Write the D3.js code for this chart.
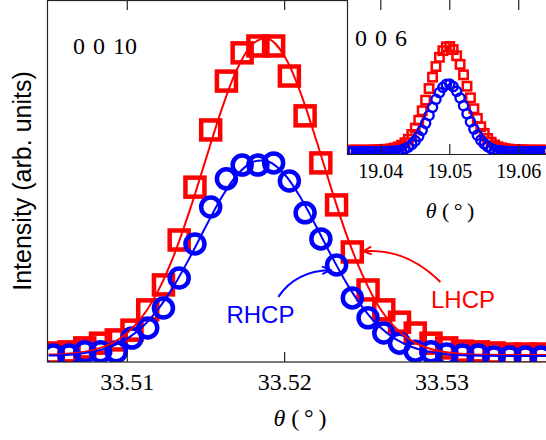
<!DOCTYPE html>
<html>
<head>
<meta charset="utf-8">
<script src="https://cdn.jsdelivr.net/npm/d3@7"></script>
<style>
  body { margin: 0; background: #fff; }
  svg { display: block; }
</style>
</head>
<body>
<script>
const width = 546;
const height = 440;
const red = "#ff0000";
const blue = "#0000ff";
const frameColor = "#222";

// ---- main panel (0 0 10) ----
const theta10 = [33.5053, 33.5063, 33.5073, 33.5083, 33.5093, 33.5103, 33.5113, 33.5123,
  33.5133, 33.5143, 33.5153, 33.5163, 33.5173, 33.5183, 33.5193, 33.5203, 33.5213, 33.5223,
  33.5233, 33.5243, 33.5253, 33.5263, 33.5273, 33.5283, 33.5293, 33.5303, 33.5313, 33.5323,
  33.5333, 33.5343, 33.5353, 33.5363];
const lhcp10 = [2.5, 2.8, 3.9, 5.2, 6.1, 8.8, 14.4, 21.3, 33.7, 48.3, 64.1, 77.6, 85.4, 87.3,
  87.3, 79.0, 68.0, 55.0, 43.4, 30.4, 19.9, 14.4, 11.0, 8.0, 5.2, 3.9, 3.0, 2.8, 2.5, 2.2, 2.2, 2.2];
const rhcp10 = [1.9, 1.9, 2.8, 2.8, 2.8, 6.6, 9.4, 14.9, 23.2, 32.6, 42.8, 50.6, 54.4, 54.4,
  55.0, 50.0, 41.2, 34.0, 26.8, 17.7, 12.2, 8.0, 5.2, 3.0, 2.8, 2.2, 1.9, 1.9, 1.4, 1.4, 1.4, 1.4];

const fitTheta10 = [33.505, 33.506, 33.507, 33.508, 33.509, 33.510, 33.511, 33.512, 33.513,
  33.514, 33.515, 33.516, 33.517, 33.518, 33.519, 33.520, 33.521, 33.522, 33.523, 33.524,
  33.525, 33.526, 33.527, 33.528, 33.529, 33.530, 33.531, 33.532, 33.533, 33.534, 33.535,
  33.536, 33.537];
const lhcpFit10 = [2.05, 2.23, 2.64, 3.49, 5.13, 8.04, 12.8, 20.0, 29.9, 42.3, 56.1, 69.8,
  81.1, 88.0, 89.2, 84.4, 74.5, 61.4, 47.4, 34.3, 23.5, 15.2, 9.6, 6.05, 4.0, 2.89, 2.35,
  2.1, 1.99, 1.95, 1.94, 1.93, 1.93];
const rhcpFit10 = [1.78, 1.95, 2.3, 3.0, 4.28, 6.45, 9.85, 14.8, 21.3, 29.1, 37.5, 45.5,
  51.8, 55.3, 55.3, 51.8, 45.5, 37.5, 29.1, 21.3, 14.8, 9.85, 6.45, 4.28, 3.0, 2.3, 1.95,
  1.78, 1.7, 1.68, 1.67, 1.66, 1.66];

const ticks10 = [33.51, 33.52, 33.53];

// ---- inset (0 0 6) ----
const theta6 = [19.0355, 19.0360, 19.0365, 19.0370, 19.0375, 19.0380, 19.0385, 19.0390,
  19.0395, 19.0400, 19.0405, 19.0410, 19.0415, 19.0420, 19.0425, 19.0430, 19.0435, 19.0440,
  19.0445, 19.0450, 19.0455, 19.0460, 19.0465, 19.0470, 19.0475, 19.0480, 19.0485, 19.0490,
  19.0495, 19.0500, 19.0505, 19.0510, 19.0515, 19.0520, 19.0525, 19.0530, 19.0535, 19.0540,
  19.0545, 19.0550, 19.0555, 19.0560, 19.0565, 19.0570, 19.0575, 19.0580, 19.0585, 19.0590,
  19.0595, 19.0600, 19.0605, 19.0610, 19.0615, 19.0620, 19.0625, 19.0630, 19.0635, 19.0640];
const lhcp6 = [0.025, 0.025, 0.025, 0.025, 0.025, 0.025, 0.025, 0.026, 0.027, 0.029, 0.030,
  0.031, 0.034, 0.039, 0.046, 0.057, 0.073, 0.096, 0.127, 0.168, 0.219, 0.281, 0.350, 0.425,
  0.499, 0.568, 0.628, 0.671, 0.696, 0.698, 0.678, 0.638, 0.582, 0.514, 0.440, 0.365, 0.294,
  0.231, 0.177, 0.134, 0.101, 0.077, 0.059, 0.047, 0.040, 0.035, 0.032, 0.030, 0.029, 0.028,
  0.027, 0.026, 0.025, 0.025, 0.025, 0.025, 0.025, 0.025];
const rhcp6 = [0.015, 0.015, 0.015, 0.015, 0.015, 0.015, 0.015, 0.015, 0.015, 0.015, 0.015,
  0.016, 0.017, 0.018, 0.021, 0.026, 0.033, 0.045, 0.062, 0.085, 0.115, 0.154, 0.199, 0.250,
  0.303, 0.355, 0.399, 0.433, 0.452, 0.454, 0.438, 0.407, 0.364, 0.314, 0.261, 0.209, 0.162,
  0.122, 0.090, 0.066, 0.048, 0.035, 0.027, 0.022, 0.019, 0.017, 0.016, 0.015, 0.015, 0.015,
  0.015, 0.015, 0.015, 0.015, 0.015, 0.015, 0.015, 0.015];

const ticks6 = [19.04, 19.05, 19.06];

const svg = d3.select("body")
    .append("svg")
    .attr("width", width)
    .attr("height", height);

// main axes
const mLeft = 47, mRight = 547, mTop = 0, mBottom = 362;

const x = d3.scaleLinear()
    .domain([33.5049, 33.53667])
    .range([mLeft, mRight]);

const y = d3.scaleLinear()
    .domain([0, 100])
    .range([mBottom, mTop]);

const defs = svg.append("defs");
defs.append("clipPath").attr("id", "clipMain")
    .append("rect")
    .attr("x", mLeft).attr("y", mTop)
    .attr("width", mRight - mLeft).attr("height", mBottom - mTop);

const main = svg.append("g").attr("clip-path", "url(#clipMain)");

const lineMain = d3.line()
    .x(d => x(d[0]))
    .y(d => y(d[1]))
    .curve(d3.curveCatmullRom);

main.selectAll("rect.lhcp")
    .data(d3.zip(theta10, lhcp10))
    .enter()
    .append("rect")
    .attr("class", "lhcp")
    .attr("x", d => x(d[0]) - 9.5)
    .attr("y", d => y(d[1]) - 9.5)
    .attr("width", 19)
    .attr("height", 19)
    .attr("fill", "none")
    .attr("stroke", red)
    .attr("stroke-width", 4.5);

main.selectAll("circle.rhcp")
    .data(d3.zip(theta10, rhcp10))
    .enter()
    .append("circle")
    .attr("class", "rhcp")
    .attr("cx", d => x(d[0]))
    .attr("cy", d => y(d[1]))
    .attr("r", 9.5)
    .attr("fill", "none")
    .attr("stroke", blue)
    .attr("stroke-width", 4.5);

main.append("path")
    .attr("d", lineMain(d3.zip(fitTheta10, lhcpFit10)))
    .attr("fill", "none")
    .attr("stroke", red)
    .attr("stroke-width", 2);

main.append("path")
    .attr("d", lineMain(d3.zip(fitTheta10, rhcpFit10)))
    .attr("fill", "none")
    .attr("stroke", blue)
    .attr("stroke-width", 2);

// annotations (data coordinates, like an annotate call)
function arrow(g, from, ctrl, to, color) {
    const p0 = [x(from[0]), y(from[1])];
    const c = [x(ctrl[0]), y(ctrl[1])];
    const p2 = [x(to[0]), y(to[1])];
    const path = d3.path();
    path.moveTo(p0[0], p0[1]);
    path.quadraticCurveTo(c[0], c[1], p2[0], p2[1]);
    g.append("path")
        .attr("d", path.toString())
        .attr("fill", "none")
        .attr("stroke", color)
        .attr("stroke-width", 2);
    const ang = Math.atan2(p2[1] - c[1], p2[0] - c[0]);
    const len = 9, spread = 0.45;
    const head = d3.path();
    head.moveTo(p2[0] - len * Math.cos(ang - spread), p2[1] - len * Math.sin(ang - spread));
    head.lineTo(p2[0], p2[1]);
    head.lineTo(p2[0] - len * Math.cos(ang + spread), p2[1] - len * Math.sin(ang + spread));
    g.append("path")
        .attr("d", head.toString())
        .attr("fill", "none")
        .attr("stroke", color)
        .attr("stroke-width", 2);
}

const notes = svg.append("g");
arrow(notes, [33.5196, 18.0], [33.5207, 25.1], [33.5229, 25.4], blue);
arrow(notes, [33.5299, 22.1], [33.5277, 31.6], [33.5250, 30.6], red);

notes.append("text")
    .attr("x", x(33.5163))
    .attr("y", y(10.8))
    .attr("font-family", "Liberation Sans, Arial, sans-serif")
    .attr("font-size", 24)
    .attr("fill", blue)
    .text("RHCP");

notes.append("text")
    .attr("x", x(33.5293))
    .attr("y", y(14.9))
    .attr("font-family", "Liberation Sans, Arial, sans-serif")
    .attr("font-size", 24)
    .attr("fill", red)
    .text("LHCP");

// main frame + ticks
svg.append("rect")
    .attr("x", mLeft + 0.5)
    .attr("y", mTop + 0.5)
    .attr("width", mRight - mLeft + 20)
    .attr("height", mBottom - mTop - 0.5)
    .attr("fill", "none")
    .attr("stroke", frameColor)
    .attr("stroke-width", 1.2);

const tickG = svg.append("g")
    .attr("stroke", frameColor)
    .attr("stroke-width", 1.2);
ticks10.forEach(t => {
    tickG.append("line")
        .attr("x1", x(t)).attr("x2", x(t))
        .attr("y1", mBottom).attr("y2", mBottom - 10);
    tickG.append("line")
        .attr("x1", x(t)).attr("x2", x(t))
        .attr("y1", mTop).attr("y2", mTop + 10);
});

svg.selectAll("text.tick10")
    .data(ticks10)
    .enter()
    .append("text")
    .attr("class", "tick10")
    .attr("x", d => x(d))
    .attr("y", 390)
    .attr("text-anchor", "middle")
    .attr("font-family", "Liberation Serif, serif")
    .attr("font-size", 24)
    .text(d => d3.format(".2f")(d));

function thetaLabel(cx, cy, size) {
    const t = svg.append("text")
        .attr("x", cx)
        .attr("y", cy)
        .attr("text-anchor", "middle")
        .attr("font-family", "Liberation Serif, serif")
        .attr("font-size", size);
    t.append("tspan").attr("font-style", "italic").text("θ");
    t.append("tspan").text(" (\u2009°\u2009)");
}

thetaLabel(300, 426, 24);

svg.append("text")
    .attr("transform", "translate(31,181) rotate(-90)")
    .attr("text-anchor", "middle")
    .attr("font-family", "Liberation Sans, Arial, sans-serif")
    .attr("font-size", 25)
    .text("Intensity (arb. units)");

svg.append("text")
    .attr("x", 73)
    .attr("y", 54)
    .attr("font-family", "Liberation Serif, serif")
    .attr("font-size", 24)
    .attr("word-spacing", 2)
    .text("0 0 10");

// ---- inset ----
const iLeft = 347, iRight = 547, iTop = 0, iBottom = 154;

const xi = d3.scaleLinear()
    .domain([19.0351, 19.0641])
    .range([iLeft, iRight]);

const yi = d3.scaleLinear()
    .domain([0, 1])
    .range([iBottom, iTop]);

svg.append("rect")
    .attr("x", iLeft)
    .attr("y", iTop)
    .attr("width", iRight - iLeft)
    .attr("height", iBottom - iTop)
    .attr("fill", "#fff");

defs.append("clipPath").attr("id", "clipInset")
    .append("rect")
    .attr("x", iLeft).attr("y", iTop)
    .attr("width", iRight - iLeft).attr("height", iBottom - iTop);

const inset = svg.append("g").attr("clip-path", "url(#clipInset)");

inset.selectAll("rect.lhcp6")
    .data(d3.zip(theta6, lhcp6))
    .enter()
    .append("rect")
    .attr("class", "lhcp6")
    .attr("x", d => xi(d[0]) - 4.2)
    .attr("y", d => yi(d[1]) - 4.2)
    .attr("width", 8.4)
    .attr("height", 8.4)
    .attr("fill", "none")
    .attr("stroke", red)
    .attr("stroke-width", 2.5);

inset.selectAll("circle.rhcp6")
    .data(d3.zip(theta6, rhcp6))
    .enter()
    .append("circle")
    .attr("class", "rhcp6")
    .attr("cx", d => xi(d[0]))
    .attr("cy", d => yi(d[1]))
    .attr("r", 4.6)
    .attr("fill", "none")
    .attr("stroke", blue)
    .attr("stroke-width", 2.4);

svg.append("path")
    .attr("d", `M${iLeft + 0.5},${iTop}V${iBottom + 0.5}H${iRight}`)
    .attr("fill", "none")
    .attr("stroke", frameColor)
    .attr("stroke-width", 1.2);

const tickI = svg.append("g")
    .attr("stroke", frameColor)
    .attr("stroke-width", 1.2);
ticks6.forEach(t => {
    tickI.append("line")
        .attr("x1", xi(t)).attr("x2", xi(t))
        .attr("y1", iBottom).attr("y2", iBottom - 10);
    tickI.append("line")
        .attr("x1", xi(t)).attr("x2", xi(t))
        .attr("y1", iTop).attr("y2", iTop + 10);
});

svg.selectAll("text.tick6")
    .data(ticks6)
    .enter()
    .append("text")
    .attr("class", "tick6")
    .attr("x", d => xi(d))
    .attr("y", 178)
    .attr("text-anchor", "middle")
    .attr("font-family", "Liberation Serif, serif")
    .attr("font-size", 20)
    .text(d => d3.format(".2f")(d));

thetaLabel(450, 218, 22);

svg.append("text")
    .attr("x", 355)
    .attr("y", 46)
    .attr("font-family", "Liberation Serif, serif")
    .attr("font-size", 24)
    .attr("word-spacing", 2)
    .text("0 0 6");
</script>
</body>
</html>
